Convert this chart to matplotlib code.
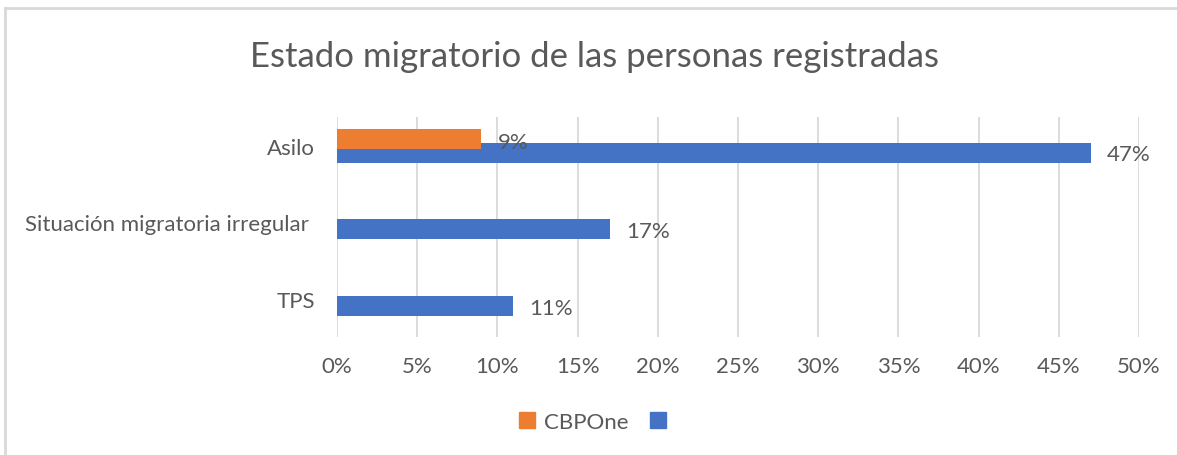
import matplotlib.pyplot as plt
from matplotlib.patches import Patch
from matplotlib.lines import Line2D
from matplotlib.ticker import PercentFormatter
import numpy as np

plt.rcParams['font.family'] = ['Lato', 'DejaVu Sans']

categories = ["TPS", "Situación migratoria irregular ", "Asilo"]
total_pct = [11, 17, 47]
cbpone_pct = [0, 0, 9]
title = "Estado migratorio de las personas registradas"

blue = "#4472C4"
orange = "#ED7D31"
text_col = "#595959"
grid_col = "#D9D9D9"

W, H = 1177, 456
fig = plt.figure(figsize=(W / 100, H / 100), dpi=100)

# plot area in pixels: x 337..1139, y 118..338
ax = fig.add_axes([337 / W, 1 - 338 / H, (1139 - 337) / W, (338 - 118) / H])

y = np.arange(len(categories))
bh = 0.26
blue_off = -0.091
orange_off = 0.085
fs = 16

ax.barh(y + blue_off, total_pct, height=bh, color=blue, zorder=2)
# orange only shown where it has a value (Asilo)
for yi, v in zip(y, cbpone_pct):
    if v > 0:
        ax.barh(yi + orange_off, v, height=bh, color=orange, zorder=3)
        ax.text(v + 1.0, yi + orange_off - 0.04, f"{v}%", color=text_col,
                fontsize=fs, va="center", ha="left", zorder=4)

for yi, v in zip(y, total_pct):
    ax.text(v + 1.0, yi + blue_off - 0.02, f"{v}%", color=text_col,
            fontsize=fs, va="center", ha="left", zorder=4)

ax.set_xlim(0, 50)
ax.set_ylim(-0.495, 2.373)
ax.set_xticks(np.arange(0, 51, 5))
ax.xaxis.set_major_formatter(PercentFormatter(decimals=0))
ax.set_yticks(y)
ax.set_yticklabels(categories)
ax.tick_params(axis="both", length=0, colors=text_col, labelsize=fs)
ax.tick_params(axis="x", pad=14)
ax.tick_params(axis="y", pad=16)
ax.grid(axis="x", color=grid_col, linewidth=1.3, zorder=0)
for s in ax.spines.values():
    s.set_visible(False)

fig.text(595 / W, 1 - 57 / H, title, ha="center", va="center",
         fontsize=25, color=text_col)

handles = [Patch(color=orange), Patch(color=blue)]
fig.legend(handles, ["CBPOne", ""], loc="center", bbox_to_anchor=(597 / W, 1 - 423 / H),
           ncol=2, frameon=False, fontsize=fs, labelcolor=text_col,
           handlelength=0.7, handleheight=0.7, handletextpad=0.4, columnspacing=1.0)

# chart border: only the left and top edges are inside the picture
fig.add_artist(Line2D([5 / W, 5 / W], [0, 1 - 9 / H], transform=fig.transFigure,
                      color=grid_col, linewidth=2))
fig.add_artist(Line2D([5 / W, 1], [1 - 9 / H, 1 - 9 / H], transform=fig.transFigure,
                      color=grid_col, linewidth=2))

fig.savefig("out.png", dpi=100, facecolor="white")
